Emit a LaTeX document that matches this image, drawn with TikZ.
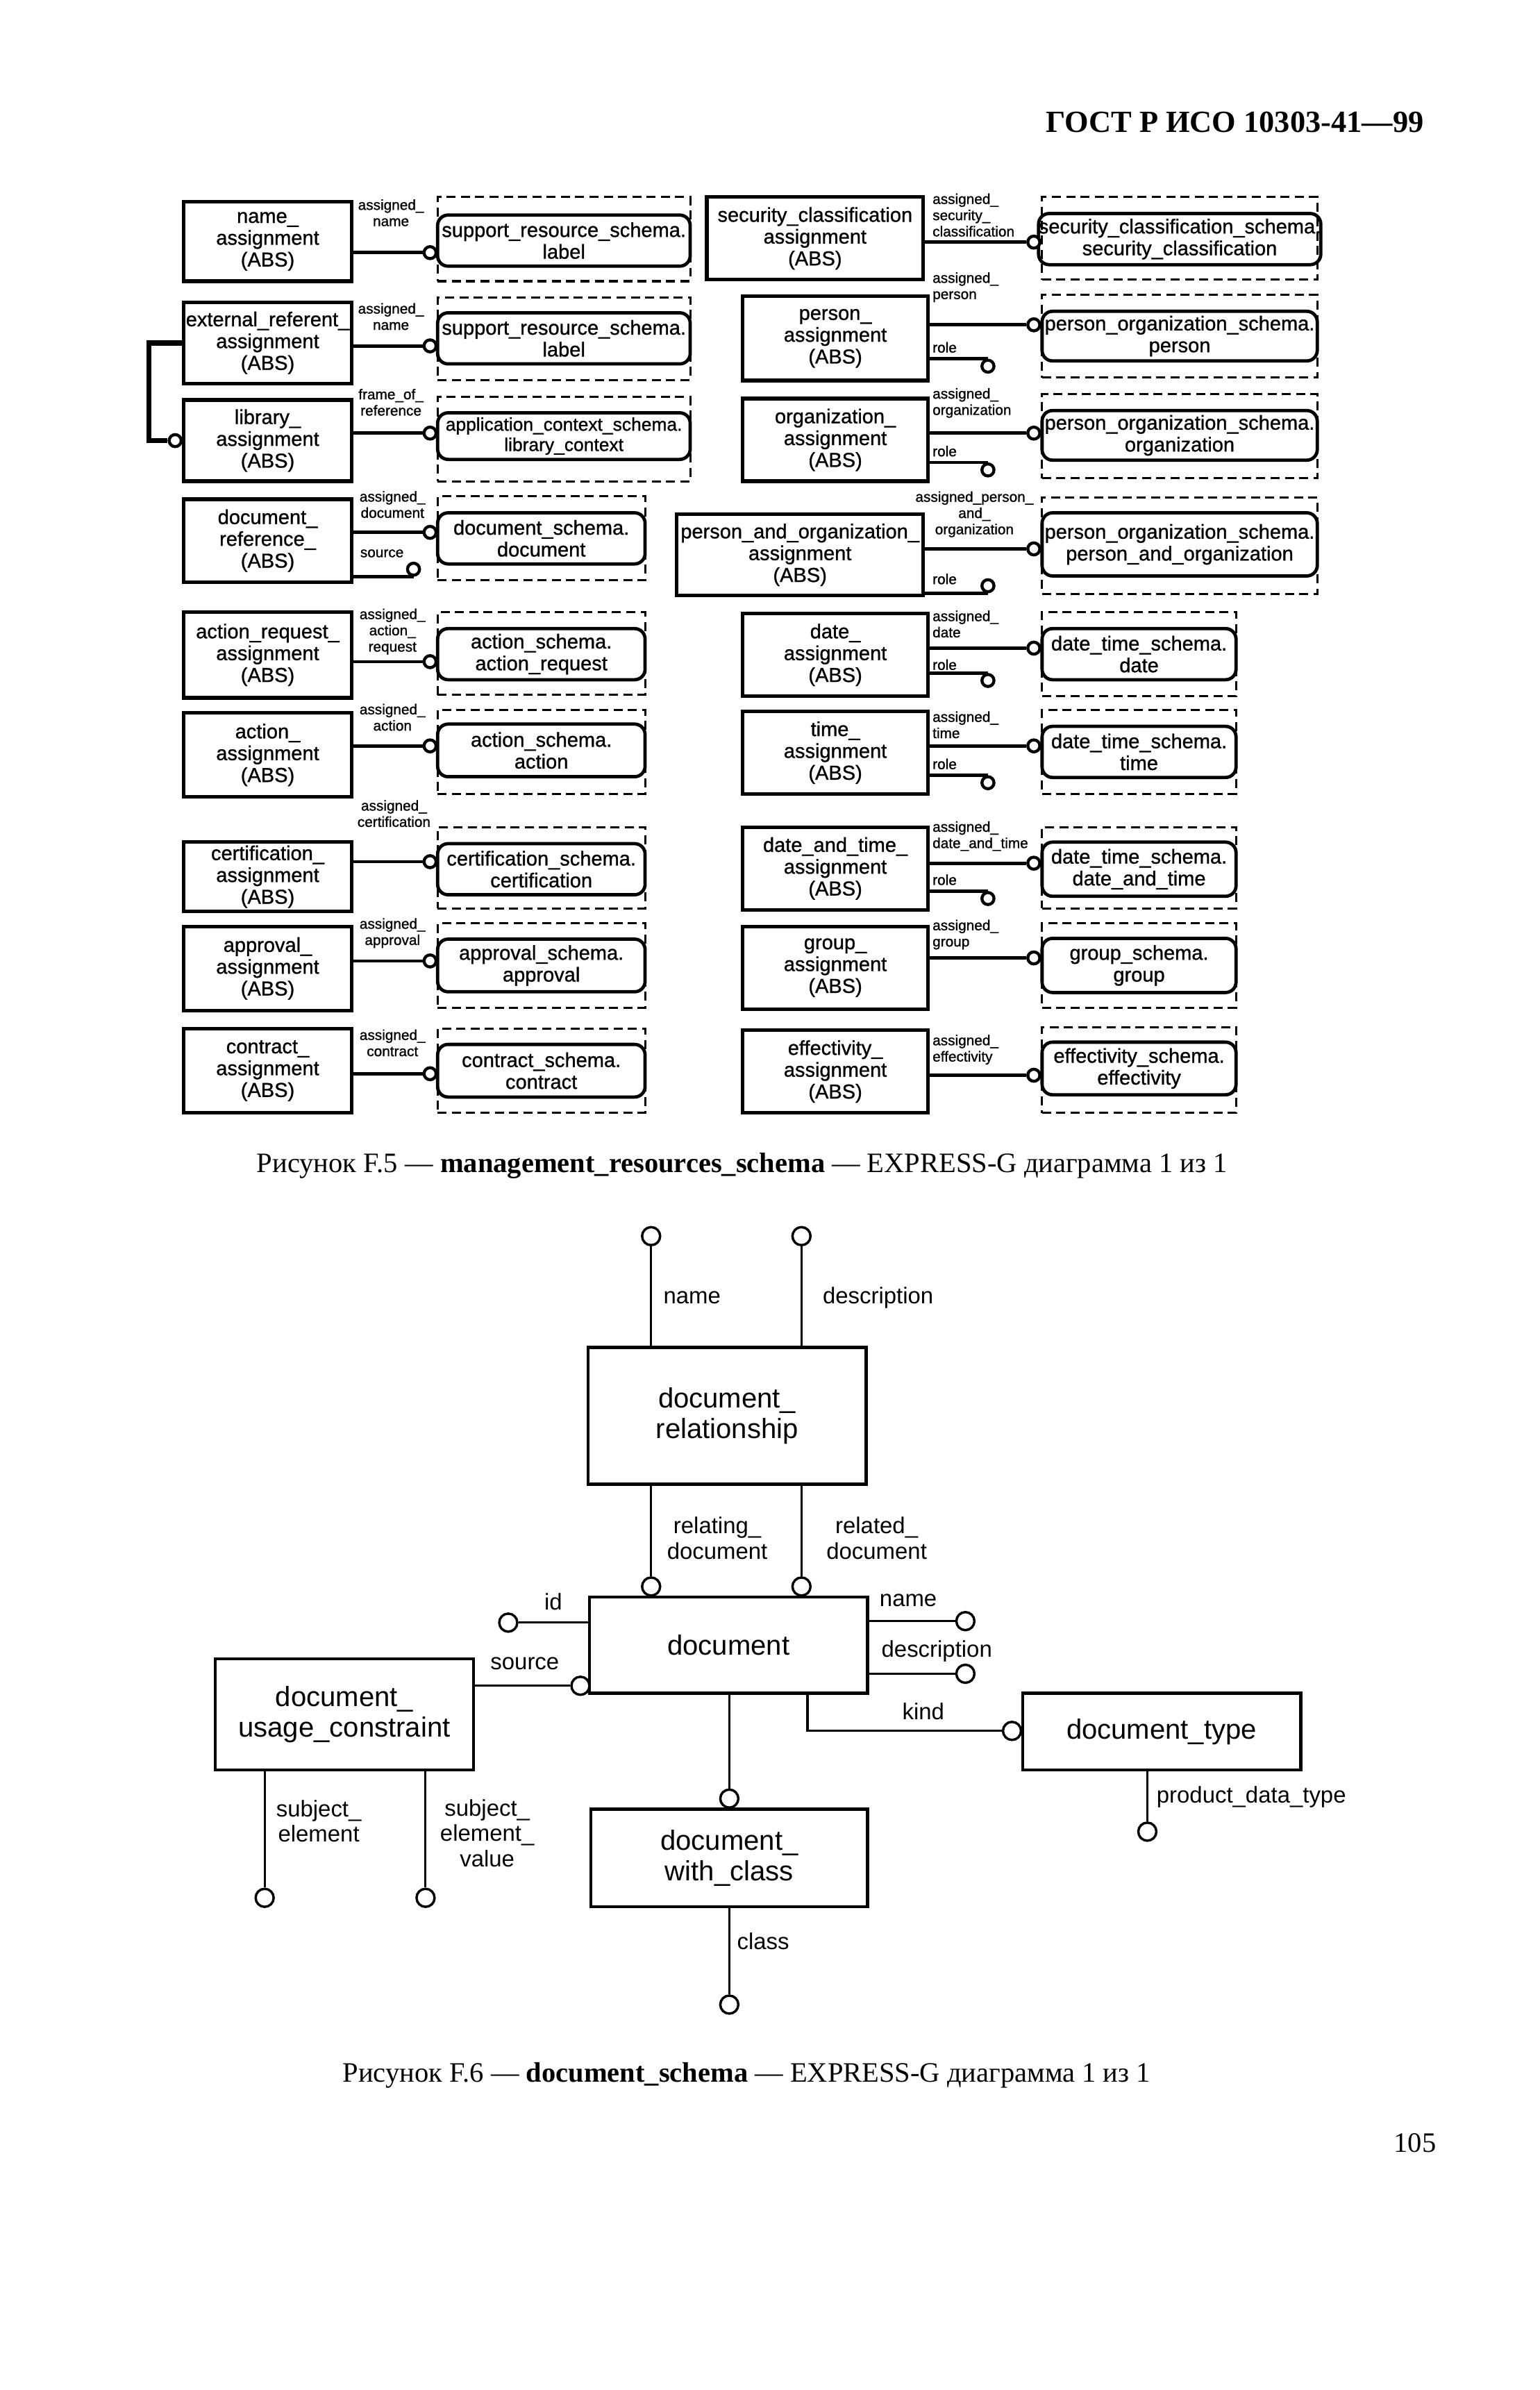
\documentclass[tikz,border=0pt]{standalone}
\usepackage{fontspec}
\setmainfont{Liberation Serif}
\newfontfamily\arial{Liberation Sans}
\newfontfamily\arialh[FakeBold=1.0]{Liberation Sans}
\newcommand\entf{\arialh\fontsize{13.4}{14.5}\selectfont}
\newcommand\entfs{\arialh\fontsize{12.2}{13.5}\selectfont}
\newcommand\lblf{\arialh\fontsize{9.6}{10.8}\selectfont}
\newcommand\bigf{\arial\fontsize{18.5}{20.5}\selectfont}
\newcommand\blblf{\arial\fontsize{15.2}{17}\selectfont}
\newcommand\capf{\fontsize{18.7}{22}\selectfont}
\tikzset{
  ent/.style={draw, line width=2.4pt, inner sep=0pt, align=center, font=\entf},
  rnd/.style={draw, line width=2.2pt, rounded corners=7pt, inner sep=0pt, align=center, font=\entf},
  dsh/.style={draw, line width=1.4pt, dash pattern=on 6pt off 3.5pt, inner sep=0pt},
  att/.style={line width=2.2pt},
  sub/.style={line width=3.5pt},
  oc/.style={circle, draw, line width=2pt, inner sep=0pt, minimum size=8pt, fill=white},
  lbl/.style={font=\lblf, align=center, inner sep=0pt},
  lbll/.style={font=\lblf, align=left, inner sep=0pt, anchor=west},
  big/.style={draw, line width=2pt, inner sep=0pt, align=center, font=\bigf},
  batt/.style={line width=1.4pt},
  boc/.style={circle, draw, line width=1.6pt, inner sep=0pt, minimum size=12pt, fill=white},
  blbl/.style={font=\blblf, align=center, inner sep=0pt},
  captxt/.style={font=\capf, inner sep=0pt}
}
\begin{document}
\begin{tikzpicture}[x=1pt, y=-1pt]
\useasboundingbox (0,0) rectangle (1024,1589.3);
\fill[white] (0,0) rectangle (1024,1589.3);

% header
\node[anchor=base east, inner sep=0pt, font=\fontsize{20.5}{24}\selectfont\bfseries] (hdr) at (947,88) {ГОСТ Р ИСО 10303-41—99};

% ===== left column entities =====
\node[ent, minimum width=112pt, minimum height=53pt] (L1) at (178,160.5) {name\_\\assignment\\(ABS)};
\node[ent, minimum width=112pt, minimum height=54pt] (L2) at (178,228) {external\_referent\_\\assignment\\(ABS)};
\node[ent, minimum width=112pt, minimum height=54pt] (L3) at (178,293) {library\_\\assignment\\(ABS)};
\node[ent, minimum width=112pt, minimum height=55pt] (L4) at (178,359.5) {document\_\\reference\_\\(ABS)};
\node[ent, minimum width=112pt, minimum height=57pt] (L5) at (178,435.5) {action\_request\_\\assignment\\(ABS)};
\node[ent, minimum width=112pt, minimum height=56pt] (L6) at (178,502) {action\_\\assignment\\(ABS)};
\node[ent, minimum width=112pt, minimum height=46pt] (L7) at (178,583) {certification\_\\assignment\\(ABS)};
\node[ent, minimum width=112pt, minimum height=56pt] (L8) at (178,644) {approval\_\\assignment\\(ABS)};
\node[ent, minimum width=112pt, minimum height=56pt] (L9) at (178,712) {contract\_\\assignment\\(ABS)};

% left dashed + rounded
\node[dsh, minimum width=168pt, minimum height=56pt] (LD1) at (375,159) {};
\node[rnd, minimum width=168pt, minimum height=34pt] (LR1) at (375,160) {support\_resource\_schema.\\label};
\node[dsh, minimum width=168pt, minimum height=55pt] (LD2) at (375,225.5) {};
\node[rnd, minimum width=168pt, minimum height=34pt] (LR2) at (375,225) {support\_resource\_schema.\\label};
\node[dsh, minimum width=168pt, minimum height=56pt] (LD3) at (375,292) {};
\node[rnd, minimum width=168pt, minimum height=31pt, font=\entfs] (LR3) at (375,290) {application\_context\_schema.\\library\_context};
\node[dsh, minimum width=138pt, minimum height=56pt] (LD4) at (360,358) {};
\node[rnd, minimum width=138pt, minimum height=34pt] (LR4) at (360,358) {document\_schema.\\document};
\node[dsh, minimum width=138pt, minimum height=55pt] (LD5) at (360,434.5) {};
\node[rnd, minimum width=138pt, minimum height=34pt] (LR5) at (360,435) {action\_schema.\\action\_request};
\node[dsh, minimum width=138pt, minimum height=56pt] (LD6) at (360,500) {};
\node[rnd, minimum width=138pt, minimum height=35pt] (LR6) at (360,499) {action\_schema.\\action};
\node[dsh, minimum width=138pt, minimum height=54pt] (LD7) at (360,577) {};
\node[rnd, minimum width=138pt, minimum height=34pt] (LR7) at (360,578) {certification\_schema.\\certification};
\node[dsh, minimum width=138pt, minimum height=56pt] (LD8) at (360,642) {};
\node[rnd, minimum width=138pt, minimum height=35pt] (LR8) at (360,642) {approval\_schema.\\approval};
\node[dsh, minimum width=138pt, minimum height=56pt] (LD9) at (360,712) {};
\node[rnd, minimum width=138pt, minimum height=35pt] (LR9) at (360,712) {contract\_schema.\\contract};

% left attribute circles and lines
\node[oc] (lc1) at (286,168) {};
\node[oc] (lc2) at (286,230) {};
\node[oc] (lc3) at (286,288) {};
\node[oc] (lc4) at (286,354) {};
\node[oc] (lc4s) at (275,378.5) {};
\node[oc] (lc5) at (286,440) {};
\node[oc] (lc6) at (286,496) {};
\node[oc] (lc7) at (286,573) {};
\node[oc] (lc8) at (286,639) {};
\node[oc] (lc9) at (286,714) {};
\draw[att] (L1.east |- lc1) -- (lc1.west);
\draw[att] (L2.east |- lc2) -- (lc2.west);
\draw[att] (L3.east |- lc3) -- (lc3.west);
\draw[att] (L4.east |- lc4) -- (lc4.west);
\draw[att] (L4.east |- lc4s.south) -- (lc4s.south);
\draw[att] (L5.east |- lc5) -- (lc5.west);
\draw[att] (L6.east |- lc6) -- (lc6.west);
\draw[att] (L7.east |- lc7) -- (lc7.west);
\draw[att] (L8.east |- lc8) -- (lc8.west);
\draw[att] (L9.east |- lc9) -- (lc9.west);

% subtype link
\node[oc] (subc) at (116.5,293) {};
\coordinate (subx) at (99,0);
\draw[sub] (L2.west) -- (L2.west -| subx) |- (subc.west);

% left labels
\node[lbl] (ll1) at (260,141.5) {assigned\_\\name};
\node[lbl] (ll2) at (260,210.5) {assigned\_\\name};
\node[lbl] (ll3) at (260,267.5) {frame\_of\_\\reference};
\node[lbl] (ll4) at (261,335.5) {assigned\_\\document};
\node[lbl] (ll4s) at (254,368) {source};
\node[lbl] (ll5) at (261,420) {assigned\_\\action\_\\request};
\node[lbl] (ll6) at (261,477) {assigned\_\\action};
\node[lbl] (ll7) at (262,541) {assigned\_\\certification};
\node[lbl] (ll8) at (261,620.5) {assigned\_\\approval};
\node[lbl] (ll9) at (261,693.5) {assigned\_\\contract};

% ===== right column entities =====
\node[ent, minimum width=144pt, minimum height=55pt] (R1) at (542,158.5) {security\_classification\\assignment\\(ABS)};
\node[ent, minimum width=123pt, minimum height=56pt] (R2) at (555.5,225) {person\_\\assignment\\(ABS)};
\node[ent, minimum width=123pt, minimum height=55pt] (R3) at (555.5,292.5) {organization\_\\assignment\\(ABS)};
\node[ent, minimum width=164pt, minimum height=54pt] (R4) at (532,369) {person\_and\_organization\_\\assignment\\(ABS)};
\node[ent, minimum width=123pt, minimum height=55pt] (R5) at (555.5,435.5) {date\_\\assignment\\(ABS)};
\node[ent, minimum width=123pt, minimum height=55pt] (R6) at (555.5,500.5) {time\_\\assignment\\(ABS)};
\node[ent, minimum width=123pt, minimum height=55pt] (R7) at (555.5,577.5) {date\_and\_time\_\\assignment\\(ABS)};
\node[ent, minimum width=123pt, minimum height=55pt] (R8) at (555.5,643.5) {group\_\\assignment\\(ABS)};
\node[ent, minimum width=123pt, minimum height=55pt] (R9) at (555.5,712.5) {effectivity\_\\assignment\\(ABS)};

% right dashed + rounded
\node[dsh, minimum width=183pt, minimum height=55pt] (RD1) at (784.5,158.5) {};
\node[rnd, minimum width=183pt, minimum height=34pt] (RR1) at (784.5,159) {security\_classification\_schema.\\security\_classification};
\node[dsh, minimum width=183pt, minimum height=55pt] (RD2) at (784.5,223.5) {};
\node[rnd, minimum width=183pt, minimum height=33pt] (RR2) at (784.5,223.5) {person\_organization\_schema.\\person};
\node[dsh, minimum width=183pt, minimum height=56pt] (RD3) at (784.5,290) {};
\node[rnd, minimum width=183pt, minimum height=33pt] (RR3) at (784.5,289.5) {person\_organization\_schema.\\organization};
\node[dsh, minimum width=183pt, minimum height=64pt] (RD4) at (784.5,363) {};
\node[rnd, minimum width=183pt, minimum height=42pt] (RR4) at (784.5,362) {person\_organization\_schema.\\person\_and\_organization};
\node[dsh, minimum width=129pt, minimum height=56pt] (RD5) at (757.5,435) {};
\node[rnd, minimum width=129pt, minimum height=34pt] (RR5) at (757.5,435) {date\_time\_schema.\\date};
\node[dsh, minimum width=129pt, minimum height=56pt] (RD6) at (757.5,500) {};
\node[rnd, minimum width=129pt, minimum height=34pt] (RR6) at (757.5,500) {date\_time\_schema.\\time};
\node[dsh, minimum width=129pt, minimum height=54pt] (RD7) at (757.5,577) {};
\node[rnd, minimum width=129pt, minimum height=36pt] (RR7) at (757.5,578) {date\_time\_schema.\\date\_and\_time};
\node[dsh, minimum width=129pt, minimum height=56pt] (RD8) at (757.5,642) {};
\node[rnd, minimum width=129pt, minimum height=36pt] (RR8) at (757.5,642) {group\_schema.\\group};
\node[dsh, minimum width=129pt, minimum height=57pt] (RD9) at (757.5,711.5) {};
\node[rnd, minimum width=129pt, minimum height=35pt] (RR9) at (757.5,710.5) {effectivity\_schema.\\effectivity};

% right attribute circles and lines
\node[oc] (rc1) at (687.5,161) {};
\node[oc] (rc2) at (687.5,216) {};
\node[oc] (rc3) at (687.5,288) {};
\node[oc] (rc4) at (687.5,365) {};
\node[oc] (rc5) at (687.5,431) {};
\node[oc] (rc6) at (687.5,496) {};
\node[oc] (rc7) at (687.5,574) {};
\node[oc] (rc8) at (687.5,637) {};
\node[oc] (rc9) at (687.5,715) {};
\draw[att] (R1.east |- rc1) -- (rc1.west);
\draw[att] (R2.east |- rc2) -- (rc2.west);
\draw[att] (R3.east |- rc3) -- (rc3.west);
\draw[att] (R4.east |- rc4) -- (rc4.west);
\draw[att] (R5.east |- rc5) -- (rc5.west);
\draw[att] (R6.east |- rc6) -- (rc6.west);
\draw[att] (R7.east |- rc7) -- (rc7.west);
\draw[att] (R8.east |- rc8) -- (rc8.west);
\draw[att] (R9.east |- rc9) -- (rc9.west);

% role circles
\node[oc] (ro2) at (657,243.5) {};
\node[oc] (ro3) at (657,312.5) {};
\node[oc] (ro4) at (657,389.5) {};
\node[oc] (ro5) at (657,452.5) {};
\node[oc] (ro6) at (657,520.5) {};
\node[oc] (ro7) at (657,597.5) {};
\draw[att] (R2.east |- ro2.north) -- (ro2.north);
\draw[att] (R3.east |- ro3.north) -- (ro3.north);
\draw[att] (R4.east |- ro4.south) -- (ro4.south);
\draw[att] (R5.east |- ro5.north) -- (ro5.north);
\draw[att] (R6.east |- ro6.north) -- (ro6.north);
\draw[att] (R7.east |- ro7.north) -- (ro7.north);

% right labels
\node[lbll] (rl1) at (620,143) {assigned\_\\security\_\\classification};
\node[lbll] (rl2) at (620,191) {assigned\_\\person};
\node[lbll] (rl3) at (620,268) {assigned\_\\organization};
\node[lbl] (rl4) at (648,342) {assigned\_person\_\\and\_\\organization};
\node[lbll] (rl5) at (620,415) {assigned\_\\date};
\node[lbll] (rl6) at (620,482) {assigned\_\\time};
\node[lbll] (rl7) at (620,556) {assigned\_\\date\_and\_time};
\node[lbll] (rl8) at (620,621.5) {assigned\_\\group};
\node[lbll] (rl9) at (620,698) {assigned\_\\effectivity};
\node[lbll] (rr2) at (620,231) {role};
\node[lbll] (rr3) at (620,300) {role};
\node[lbll] (rr4) at (620,385) {role};
\node[lbll] (rr5) at (620,442) {role};
\node[lbll] (rr6) at (620,508) {role};
\node[lbll] (rr7) at (620,585) {role};

% caption F.5
\node[captxt] (cap5) at (493.5,775) {Рисунок F.5 — \textbf{management\_resources\_schema} — EXPRESS-G диаграмма 1 из 1};

% ===== document_schema diagram =====
\node[big, minimum width=185pt, minimum height=91pt] (Drel) at (483.5,941.5) {document\_\\relationship};
\node[big, minimum width=185pt, minimum height=64pt] (Doc) at (484.5,1094) {document};
\node[big, minimum width=172pt, minimum height=74pt] (Duc) at (229,1140) {document\_\\usage\_constraint};
\node[big, minimum width=185pt, minimum height=51pt] (Dty) at (772.5,1151.5) {document\_type};
\node[big, minimum width=184pt, minimum height=65pt] (Dwc) at (485,1235.5) {document\_\\with\_class};

\node[boc] (bName) at (433,822) {};
\node[boc] (bDesc) at (533,822) {};
\node[boc] (bRelg) at (433,1055) {};
\node[boc] (bReld) at (533,1055) {};
\node[boc] (bId) at (338,1079) {};
\node[boc] (bName2) at (642,1078) {};
\node[boc] (bDesc2) at (642,1113) {};
\node[boc] (bSrc) at (386,1121) {};
\node[boc] (bKind) at (673,1151) {};
\node[boc] (bPdt) at (763,1218) {};
\node[boc] (bDwc) at (485,1196) {};
\node[boc] (bCls) at (485,1333) {};
\node[boc] (bSe) at (176,1262) {};
\node[boc] (bSev) at (283,1262) {};
\coordinate (kx) at (537,0);

\draw[batt] (bName.south) -- (bName.south |- Drel.north);
\draw[batt] (bDesc.south) -- (bDesc.south |- Drel.north);
\draw[batt] (bRelg.north |- Drel.south) -- (bRelg.north);
\draw[batt] (bReld.north |- Drel.south) -- (bReld.north);
\draw[batt] (Doc.west |- bId) -- (bId.east);
\draw[batt] (Doc.east |- bName2) -- (bName2.west);
\draw[batt] (Doc.east |- bDesc2) -- (bDesc2.west);
\draw[batt] (Duc.east |- bSrc) -- (bSrc.west);
\draw[batt] (Doc.south -| kx) |- (bKind.west);
\draw[batt] (bPdt.north |- Dty.south) -- (bPdt.north);
\draw[batt] (bDwc.north |- Doc.south) -- (bDwc.north);
\draw[batt] (bCls.north |- Dwc.south) -- (bCls.north);
\draw[batt] (bSe.north |- Duc.south) -- (bSe.north);
\draw[batt] (bSev.north |- Duc.south) -- (bSev.north);

\node[blbl, anchor=west] (tName) at (441,863) {name};
\node[blbl, anchor=west] (tDesc) at (547,863) {description};
\node[blbl] (tRelg) at (477,1023) {relating\_\\document};
\node[blbl] (tReld) at (583,1023) {related\_\\document};
\node[blbl] (tId) at (368,1065) {id};
\node[blbl] (tName2) at (604,1064) {name};
\node[blbl] (tDesc2) at (623,1098) {description};
\node[blbl] (tSrc) at (349,1106) {source};
\node[blbl] (tKind) at (614,1138) {kind};
\node[blbl, anchor=west] (tPdt) at (769,1195) {product\_data\_type};
\node[blbl] (tSe) at (212,1211) {subject\_\\element};
\node[blbl] (tSev) at (324,1219) {subject\_\\element\_\\value};
\node[blbl, anchor=west] (tCls) at (490,1291) {class};

% caption F.6
\node[captxt] (cap6) at (496.5,1380) {Рисунок F.6 — \textbf{document\_schema} — EXPRESS-G диаграмма 1 из 1};

% page number
\node[captxt] (pg) at (941,1425) {105};
\end{tikzpicture}
\end{document}
